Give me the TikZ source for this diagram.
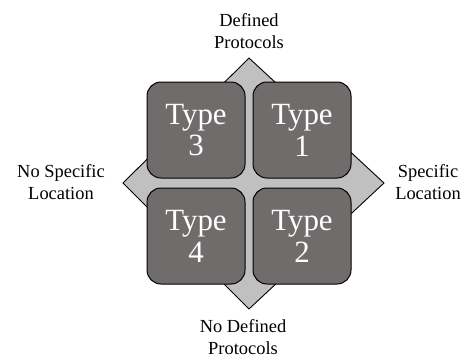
\documentclass[tikz,border=0pt]{standalone}
\usepackage{fontspec}
\setmainfont{Liberation Serif}
\definecolor{tilefill}{RGB}{112,108,108}
\definecolor{diamondfill}{RGB}{192,192,192}
\begin{document}
\begin{tikzpicture}[x=1bp,y=-1bp,
  tile/.style={draw=black, line width=1bp, fill=tilefill, rounded corners=14bp,
    minimum width=98bp, minimum height=96bp, inner sep=0pt,
    text=white, align=center, font=\fontsize{31}{32}\selectfont},
  axislabel/.style={align=center, font=\fontsize{18.5}{22.5}\selectfont, inner sep=0pt}]
  \useasboundingbox (0,0) rectangle (465,358);
  % background diamond
  \coordinate (dtop) at (249,58);
  \coordinate (dright) at (384,183);
  \coordinate (dbottom) at (249,309);
  \coordinate (dleft) at (123,183);
  \draw[fill=diamondfill, line width=0.9bp, line join=miter]
    (dtop) -- (dright) -- (dbottom) -- (dleft) -- cycle;
  % four quadrant tiles
  \node[tile] (t3) at (196,130) {Type\\3};
  \node[tile] (t1) at (302,130) {Type\\1};
  \node[tile] (t4) at (196,236) {Type\\4};
  \node[tile] (t2) at (302,236) {Type\\2};
  % axis labels
  \node[axislabel] (top) at (249,31) {Defined\\Protocols};
  \node[axislabel] (right) at (428,182) {Specific\\Location};
  \node[axislabel] (left) at (61,182) {No Specific\\Location};
  \node[axislabel] (bottom) at (243,337) {No Defined\\Protocols};
\end{tikzpicture}
\end{document}
